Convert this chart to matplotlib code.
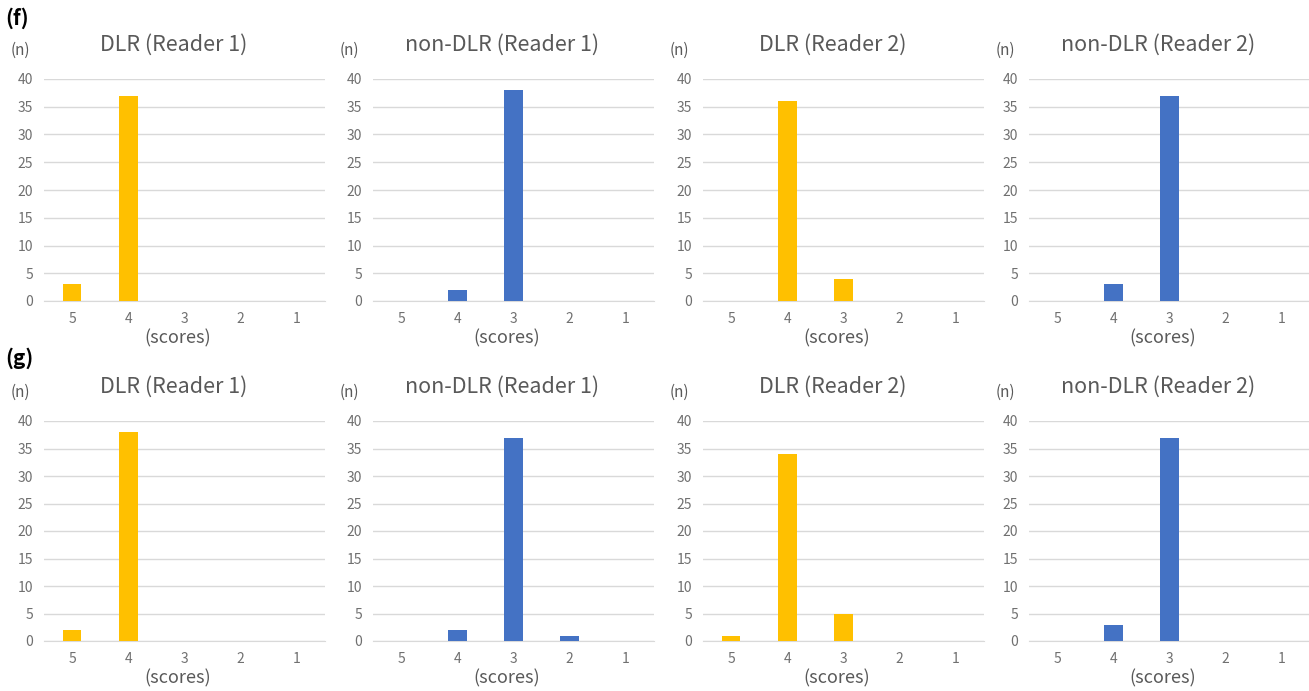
import matplotlib
matplotlib.use('Agg')
import matplotlib.pyplot as plt

plt.rcParams['font.family'] = ['Noto Sans CJK JP', 'DejaVu Sans']

scores = ['5', '4', '3', '2', '1']
titles = ['DLR (Reader 1)', 'non-DLR (Reader 1)', 'DLR (Reader 2)', 'non-DLR (Reader 2)']
panel_labels = ['(f)', '(g)']

# counts per score (5..1)
f_dlr_r1 = [3, 37, 0, 0, 0]
f_non_r1 = [0, 2, 38, 0, 0]
f_dlr_r2 = [0, 36, 4, 0, 0]
f_non_r2 = [0, 3, 37, 0, 0]

g_dlr_r1 = [2, 38, 0, 0, 0]
g_non_r1 = [0, 2, 37, 1, 0]
g_dlr_r2 = [1, 34, 5, 0, 0]
g_non_r2 = [0, 3, 37, 0, 0]

rows = [[f_dlr_r1, f_non_r1, f_dlr_r2, f_non_r2],
        [g_dlr_r1, g_non_r1, g_dlr_r2, g_non_r2]]

yellow = '#FFC000'
blue = '#4472C4'
grey = '#595959'
grid = '#D9D9D9'

fig = plt.figure(figsize=(13.09, 6.91), dpi=100)

lefts = [44, 373, 703, 1029]
bottoms = [(301, 79), (641, 421)]
W, H = 1309, 691

for r, row in enumerate(rows):
    y0, y1 = bottoms[r]
    for c, vals in enumerate(row):
        ax = fig.add_axes([lefts[c] / W, 1 - y0 / H, 281 / W, (y0 - y1) / H])
        color = yellow if c % 2 == 0 else blue
        ax.bar(range(len(scores)), vals, width=0.33, color=color, zorder=3)
        ax.set_xlim(-0.5, 4.5)
        ax.set_ylim(0, 40)
        ax.set_yticks(range(0, 41, 5))
        ax.set_xticks(range(len(scores)))
        ax.set_xticklabels(scores)
        ax.yaxis.grid(True, color=grid, linewidth=1, zorder=0)
        for s in ['top', 'right', 'left']:
            ax.spines[s].set_visible(False)
        ax.spines['bottom'].set_color(grid)
        ax.tick_params(length=0, colors='#707070', labelsize=10, pad=8)
        ax.text(0.475, -0.17, '(scores)', transform=ax.transAxes, ha='center',
                va='center', fontsize=13, color=grey)
        ax.text(0.46, 1.155, titles[c], transform=ax.transAxes, ha='center',
                va='center', fontsize=15.5, color=grey)
        ax.text(-0.085, 1.13, '(n)', transform=ax.transAxes, ha='center',
                va='center', fontsize=11, color=grey)
    fig.text(5 / W, 1 - (18 + 340 * r) / H, panel_labels[r], fontsize=15,
             fontweight='bold', ha='left', va='center', color='black')

fig.savefig('out.png', dpi=100)
